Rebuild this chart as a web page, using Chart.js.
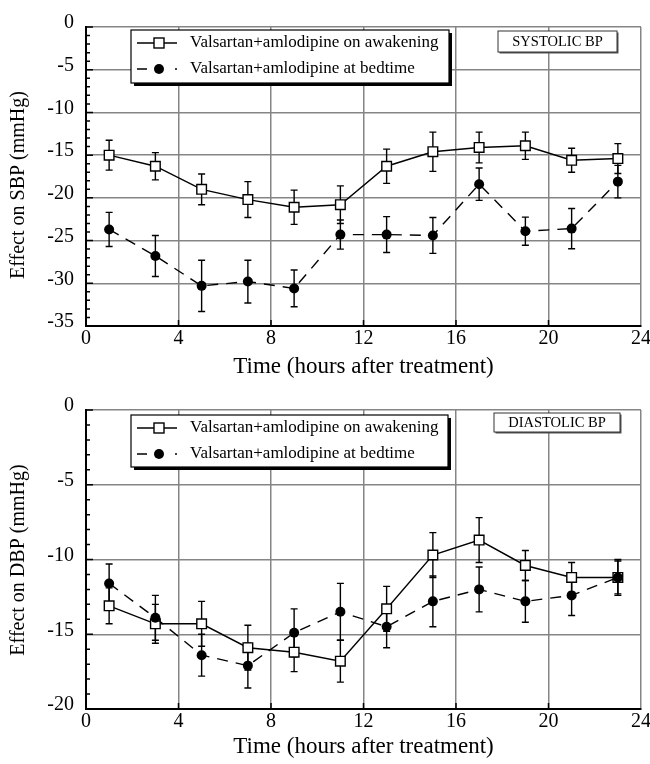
<!DOCTYPE html>
<html lang="en">
<head>
  <meta charset="UTF-8">
  <title>Valsartan+amlodipine: effect on SBP and DBP</title>
  <style>
    body {
      margin: 0;
      background: #fff;
    }
    .panel {
      position: absolute;
      left: 0;
    }
    #top { top: 0; }
    #bottom { top: 390px; }
  </style>
  <script src="https://cdn.jsdelivr.net/npm/chart.js"></script>
</head>
<body>
  <div class="panel" id="top"><canvas id="sbpChart" width="650" height="390"></canvas></div>
  <div class="panel" id="bottom"><canvas id="dbpChart" width="650" height="374"></canvas></div>

  <script>
    // hours after treatment
    const hours = [1, 3, 5, 7, 9, 11, 13, 15, 17, 19, 21, 23];

    // systolic BP (mmHg)
    const sbpAwake    = [-15.0, -16.3, -19.0, -20.2, -21.1, -20.8, -16.3, -14.6, -14.1, -13.9, -15.6, -15.4];
    const sbpAwakeErr = [1.75, 1.6, 1.8, 2.1, 2.0, 2.2, 2.0, 2.3, 1.8, 1.6, 1.4, 1.75];
    const sbpBed      = [-23.7, -26.8, -30.3, -29.8, -30.6, -24.3, -24.3, -24.4, -18.4, -23.9, -23.6, -18.1];
    const sbpBedErr   = [2.0, 2.4, 3.0, 2.5, 2.15, 1.7, 2.1, 2.1, 1.9, 1.65, 2.35, 1.9];

    // diastolic BP (mmHg)
    const dbpAwake    = [-13.1, -14.3, -14.3, -15.9, -16.2, -16.8, -13.3, -9.7, -8.7, -10.4, -11.2, -11.2];
    const dbpAwakeErr = [1.2, 1.3, 1.5, 1.5, 1.3, 1.4, 1.5, 1.5, 1.5, 1.0, 1.0, 1.1];
    const dbpBed      = [-11.6, -13.9, -16.4, -17.1, -14.9, -13.5, -14.5, -12.8, -12.0, -12.8, -12.4, -11.2];
    const dbpBedErr   = [1.3, 1.5, 1.4, 1.5, 1.6, 1.9, 1.4, 1.7, 1.5, 1.4, 1.35, 1.2];

    const seriesNames = ['Valsartan+amlodipine on awakening', 'Valsartan+amlodipine at bedtime'];

    const SERIF = '"Liberation Serif", "Times New Roman", serif';
    const GRID = '#858585';

    function toPoints(ys) {
      return hours.map((h, i) => ({ x: h, y: ys[i] }));
    }

    // error bars, drawn under the markers
    const errorBars = {
      id: 'errorBars',
      beforeDatasetsDraw(chart) {
        const { ctx, scales } = chart;
        const errs = chart.options.plugins.errorBars.errs;
        ctx.save();
        ctx.strokeStyle = '#000';
        ctx.lineWidth = 1.4;
        chart.data.datasets.forEach((ds, d) => {
          ds.data.forEach((p, i) => {
            const x = scales.x.getPixelForValue(p.x);
            const y1 = scales.y.getPixelForValue(p.y + errs[d][i]);
            const y2 = scales.y.getPixelForValue(p.y - errs[d][i]);
            ctx.beginPath();
            ctx.moveTo(x, y1); ctx.lineTo(x, y2);
            ctx.moveTo(x - 3.5, y1); ctx.lineTo(x + 3.5, y1);
            ctx.moveTo(x - 3.5, y2); ctx.lineTo(x + 3.5, y2);
            ctx.stroke();
          });
        });
        ctx.restore();
      }
    };

    // inward tick marks on the axes
    const innerTicks = {
      id: 'innerTicks',
      afterDraw(chart) {
        const { ctx, scales, chartArea } = chart;
        ctx.save();
        ctx.strokeStyle = '#000';
        ctx.lineWidth = 1.5;
        ctx.beginPath();
        for (let v = scales.y.min; v <= scales.y.max; v++) {
          const y = scales.y.getPixelForValue(v);
          const len = v % 5 === 0 ? 7 : 4;
          ctx.moveTo(chartArea.left, y); ctx.lineTo(chartArea.left + len, y);
        }
        for (let v = 4; v < 24; v += 4) {
          const x = scales.x.getPixelForValue(v);
          ctx.moveTo(x, chartArea.bottom); ctx.lineTo(x, chartArea.bottom - 6);
        }
        ctx.stroke();
        ctx.restore();
      }
    };

    // y title, boxed legend with drop shadow, and the panel label box
    const boxes = {
      id: 'boxes',
      afterDraw(chart) {
        const { ctx } = chart;
        const o = chart.options.plugins.boxes;

        ctx.save();
        ctx.fillStyle = '#000';
        ctx.font = '20px ' + SERIF;
        ctx.textAlign = 'center';
        ctx.textBaseline = 'middle';
        ctx.translate(19, o.yTitleAt);
        ctx.rotate(-Math.PI / 2);
        ctx.fillText(o.yTitle, 0, 0);
        ctx.restore();

        const L = o.legend;
        ctx.save();
        ctx.fillStyle = '#000';
        ctx.fillRect(L.x + 3, L.y + 3, L.w, L.h);
        ctx.fillStyle = '#fff';
        ctx.fillRect(L.x, L.y, L.w, L.h);
        ctx.strokeStyle = '#000';
        ctx.lineWidth = 1.2;
        ctx.strokeRect(L.x, L.y, L.w, L.h);

        const r1 = L.y + 13, r2 = L.y + 39;
        // awakening sample
        ctx.lineWidth = 1.4;
        ctx.beginPath();
        ctx.moveTo(L.x + 6, r1); ctx.lineTo(L.x + 46, r1);
        ctx.stroke();
        ctx.fillStyle = '#fff';
        ctx.fillRect(L.x + 23, r1 - 5, 10, 10);
        ctx.strokeRect(L.x + 23, r1 - 5, 10, 10);
        // bedtime sample
        ctx.beginPath();
        ctx.moveTo(L.x + 6, r2); ctx.lineTo(L.x + 16, r2);
        ctx.moveTo(L.x + 44, r2); ctx.lineTo(L.x + 46, r2);
        ctx.stroke();
        ctx.fillStyle = '#000';
        ctx.beginPath();
        ctx.arc(L.x + 28, r2, 5, 0, Math.PI * 2);
        ctx.fill();

        ctx.font = '17px ' + SERIF;
        ctx.textBaseline = 'middle';
        ctx.textAlign = 'left';
        ctx.fillText(seriesNames[0], L.x + 59, r1);
        ctx.fillText(seriesNames[1], L.x + 59, r2);

        const B = o.label;
        ctx.fillStyle = '#555';
        ctx.fillRect(B.x + 1.5, B.y + 1.5, B.w, B.h);
        ctx.fillStyle = '#fff';
        ctx.fillRect(B.x, B.y, B.w, B.h);
        ctx.strokeStyle = '#333';
        ctx.lineWidth = 1;
        ctx.strokeRect(B.x, B.y, B.w, B.h);
        ctx.fillStyle = '#000';
        ctx.font = '14.5px ' + SERIF;
        ctx.textAlign = 'center';
        ctx.fillText(B.text, B.x + B.w / 2, B.y + B.h / 2 + 1);
        ctx.restore();
      }
    };

    function makeChart(id, cfg) {
      return new Chart(document.getElementById(id), {
        type: 'line',
        data: {
          datasets: [
            {
              label: seriesNames[0],
              data: toPoints(cfg.awake),
              borderColor: '#000',
              borderWidth: 1.4,
              backgroundColor: '#fff',
              pointStyle: 'rect',
              pointRadius: 6.8,
              pointBorderWidth: 1.4,
              tension: 0,
              order: 2
            },
            {
              label: seriesNames[1],
              data: toPoints(cfg.bed),
              borderColor: '#000',
              borderWidth: 1.4,
              borderDash: [11, 8],
              backgroundColor: '#000',
              pointStyle: 'circle',
              pointRadius: 5,
              pointBorderWidth: 0,
              tension: 0,
              order: 1
            }
          ]
        },
        options: {
          responsive: false,
          animation: false,
          layout: { padding: { left: 0, right: 9, top: cfg.top, bottom: 0 } },
          plugins: {
            legend: { display: false },
            tooltip: { enabled: false },
            errorBars: { errs: [cfg.awakeErr, cfg.bedErr] },
            boxes: { legend: cfg.legend, label: cfg.label, yTitle: cfg.yTitle, yTitleAt: cfg.yTitleAt }
          },
          scales: {
            x: {
              type: 'linear',
              min: 0,
              max: 24,
              ticks: { stepSize: 4, color: '#000', font: { family: SERIF, size: 20 }, padding: 1, maxRotation: 0 },
              grid: { color: GRID, lineWidth: 1.5, drawTicks: false },
              border: { color: '#000', width: 2 },
              title: {
                display: true,
                text: 'Time (hours after treatment)',
                color: '#000',
                font: { family: SERIF, size: 23 },
                padding: { top: 0, bottom: cfg.titlePad }
              },
              afterFit(s) { s.height = cfg.xHeight; s.paddingLeft = 0; s.paddingRight = 0; }
            },
            y: {
              min: cfg.yMin,
              max: 0,
              ticks: { stepSize: 5, color: '#000', font: { family: SERIF, size: 20 }, padding: 12, labelOffset: -4 },
              grid: { color: GRID, lineWidth: 1.5, drawTicks: false },
              border: { color: '#000', width: 2 },
              afterFit(s) { s.width = 86; s.paddingTop = 0; s.paddingBottom = 0; }
            }
          }
        },
        plugins: [errorBars, innerTicks, boxes]
      });
    }

    makeChart('sbpChart', {
      awake: sbpAwake, awakeErr: sbpAwakeErr, bed: sbpBed, bedErr: sbpBedErr,
      yMin: -35, yTitle: 'Effect on SBP (mmHg)', yTitleAt: 185,
      top: 27, xHeight: 64, titlePad: 9,
      legend: { x: 131, y: 30, w: 318, h: 53 },
      label: { x: 498, y: 31, w: 119, h: 21, text: 'SYSTOLIC BP' }
    });

    makeChart('dbpChart', {
      awake: dbpAwake, awakeErr: dbpAwakeErr, bed: dbpBed, bedErr: dbpBedErr,
      yMin: -20, yTitle: 'Effect on DBP (mmHg)', yTitleAt: 170,
      top: 20, xHeight: 55, titlePad: 3,
      legend: { x: 131, y: 25, w: 317, h: 52 },
      label: { x: 494, y: 23, w: 126, h: 19, text: 'DIASTOLIC BP' }
    });
  </script>
</body>
</html>
